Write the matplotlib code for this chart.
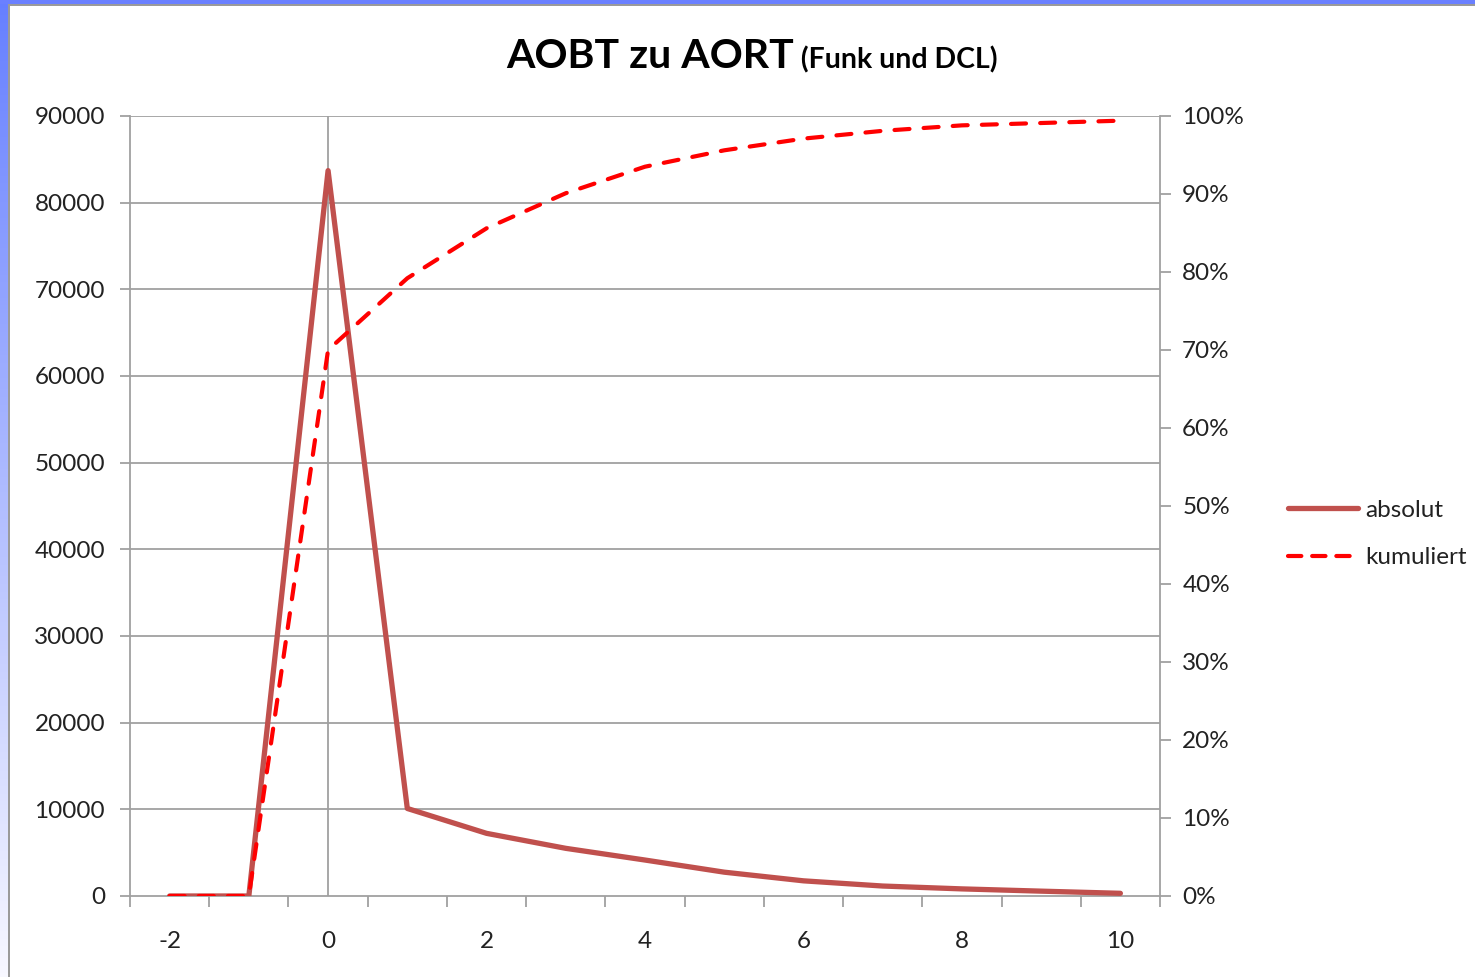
import numpy as np
import matplotlib
matplotlib.use("Agg")
import matplotlib.pyplot as plt
from matplotlib.patches import Rectangle
from matplotlib.lines import Line2D

# ---- data ----
categories = [-2, -1, 0, 1, 2, 3, 4, 5, 6, 7, 8, 9, 10]
absolut = [0, 0, 83700, 10100, 7230, 5500, 4150, 2750, 1750, 1150, 820, 560, 310]
kumuliert = [0.0, 0.0, 0.700, 0.792, 0.856, 0.901, 0.935, 0.956, 0.971, 0.981, 0.988, 0.991, 0.994]
x_labels = ["-2", "0", "2", "4", "6", "8", "10"]
y_left_ticks = [0, 10000, 20000, 30000, 40000, 50000, 60000, 70000, 80000, 90000]
y_right_ticks = [0.0, 0.1, 0.2, 0.3, 0.4, 0.5, 0.6, 0.7, 0.8, 0.9, 1.0]
title_main = "AOBT zu AORT"
title_sub = " (Funk und DCL)"
legend_labels = ["absolut", "kumuliert"]

FONT = "Lato"
W, H = 1475, 977
fig = plt.figure(figsize=(W / 100, H / 100), dpi=100)

# ---- background frame (blue gradient strip + gray border) ----
bg = fig.add_axes([0, 0, 1, 1], zorder=-10)
bg.set_xlim(0, W)
bg.set_ylim(H, 0)
bg.axis("off")
grad = np.linspace(0, 1, 256)[:, None]
top_col = np.array([0.40, 0.50, 1.0])
bot_col = np.array([0.97, 0.97, 1.0])
img = top_col[None, None, :] * (1 - grad[..., None]) + bot_col[None, None, :] * grad[..., None]
bg.imshow(img, extent=[0, 9, H, 0], aspect="auto", zorder=0)
bg.add_patch(Rectangle((0, 0), W, 4, color="#6A80FF", zorder=1, lw=0))
bg.add_patch(Rectangle((8, 4), 2, H, color="#9a9a9a", zorder=2, lw=0))
bg.add_patch(Rectangle((8, 4), W, 2, color="#9a9a9a", zorder=2, lw=0))

# ---- main axes ----
left, right = 130 / W, 1160 / W
bottom, top = 1 - 896 / H, 1 - 116 / H
ax = fig.add_axes([left, bottom, right - left, top - bottom])
ax2 = ax.twinx()

grid_col = "#a0a0a0"
ax.set_xlim(categories[0] - 0.5, categories[-1] + 0.5)
ax.set_ylim(0, 90000)
ax2.set_ylim(0, 1.0)

for yv in y_left_ticks[1:]:
    ax.axhline(yv, color=grid_col, lw=1.3, zorder=0)
ax.axvline(0, color=grid_col, lw=1.3, zorder=0)

ax.plot(categories, absolut, color="#C0504D", lw=3.8, solid_capstyle="round",
        solid_joinstyle="round", zorder=3)
ax2.plot(categories, kumuliert, color="#FF0000", lw=3.0, dashes=(3.6, 3.4),
         dash_capstyle="round", zorder=3)

# ticks
ax.set_yticks(y_left_ticks)
ax.set_yticklabels([str(v) for v in y_left_ticks])
ax2.set_yticks(y_right_ticks)
ax2.set_yticklabels([f"{int(round(v * 100))}%" for v in y_right_ticks])
label_pos = [int(s) for s in x_labels]
ax.set_xticks(label_pos)
ax.set_xticklabels(x_labels)
ax.set_xticks(np.arange(categories[0] - 0.5, categories[-1] + 1.0, 1.0), minor=True)

LS = 17.5
ax.tick_params(axis="x", which="major", length=0, pad=25, labelsize=LS,
               labelcolor="#222222")
ax.tick_params(axis="x", which="minor", length=8, width=1.3, color=grid_col,
               direction="out")
ax.tick_params(axis="y", length=7, width=1.3, color=grid_col, direction="out",
               pad=11, labelsize=LS, labelcolor="#222222")
ax2.tick_params(axis="y", length=8, width=1.3, color=grid_col, direction="out",
                pad=8, labelsize=LS, labelcolor="#222222")
for a in (ax, ax2):
    for lab in a.get_xticklabels() + a.get_yticklabels():
        lab.set_fontfamily(FONT)
    for s in a.spines.values():
        s.set_color(grid_col)
        s.set_linewidth(1.3)
    a.spines["top"].set_visible(False)
ax2.spines["left"].set_visible(False)
ax2.spines["bottom"].set_visible(False)
ax.spines["right"].set_visible(False)

# ---- title ----
t1 = fig.text(0.5, 1 - 56 / H, title_main, fontsize=29.5, fontweight="bold",
              fontfamily=FONT, ha="right", va="center", color="black")
fig.canvas.draw()
main_w = t1.get_window_extent().width
sub = fig.text(0, 1 - 60 / H, title_sub, fontsize=20.5, fontweight="bold",
               fontfamily=FONT, ha="left", va="center", color="black")
fig.canvas.draw()
sub_w = sub.get_window_extent().width
total = main_w + sub_w
start = 752 - total / 2
t1.set_x((start + main_w) / W)
sub.set_x((start + main_w) / W)

# ---- legend ----
handles = [Line2D([], [], color="#C0504D", lw=3.8, solid_capstyle="round"),
           Line2D([], [], color="#FF0000", lw=3.0, dashes=(3.2, 2.6),
                  dash_capstyle="round")]
leg = fig.legend(handles, legend_labels, loc="center left",
                 bbox_to_anchor=(1278 / W, 1 - 534 / H), frameon=False,
                 prop={"family": FONT, "size": LS}, handlelength=2.9,
                 handletextpad=0.3, labelspacing=1.1, borderaxespad=0)
for t in leg.get_texts():
    t.set_color("#222222")

fig.savefig("out.png", dpi=100, facecolor="white")
